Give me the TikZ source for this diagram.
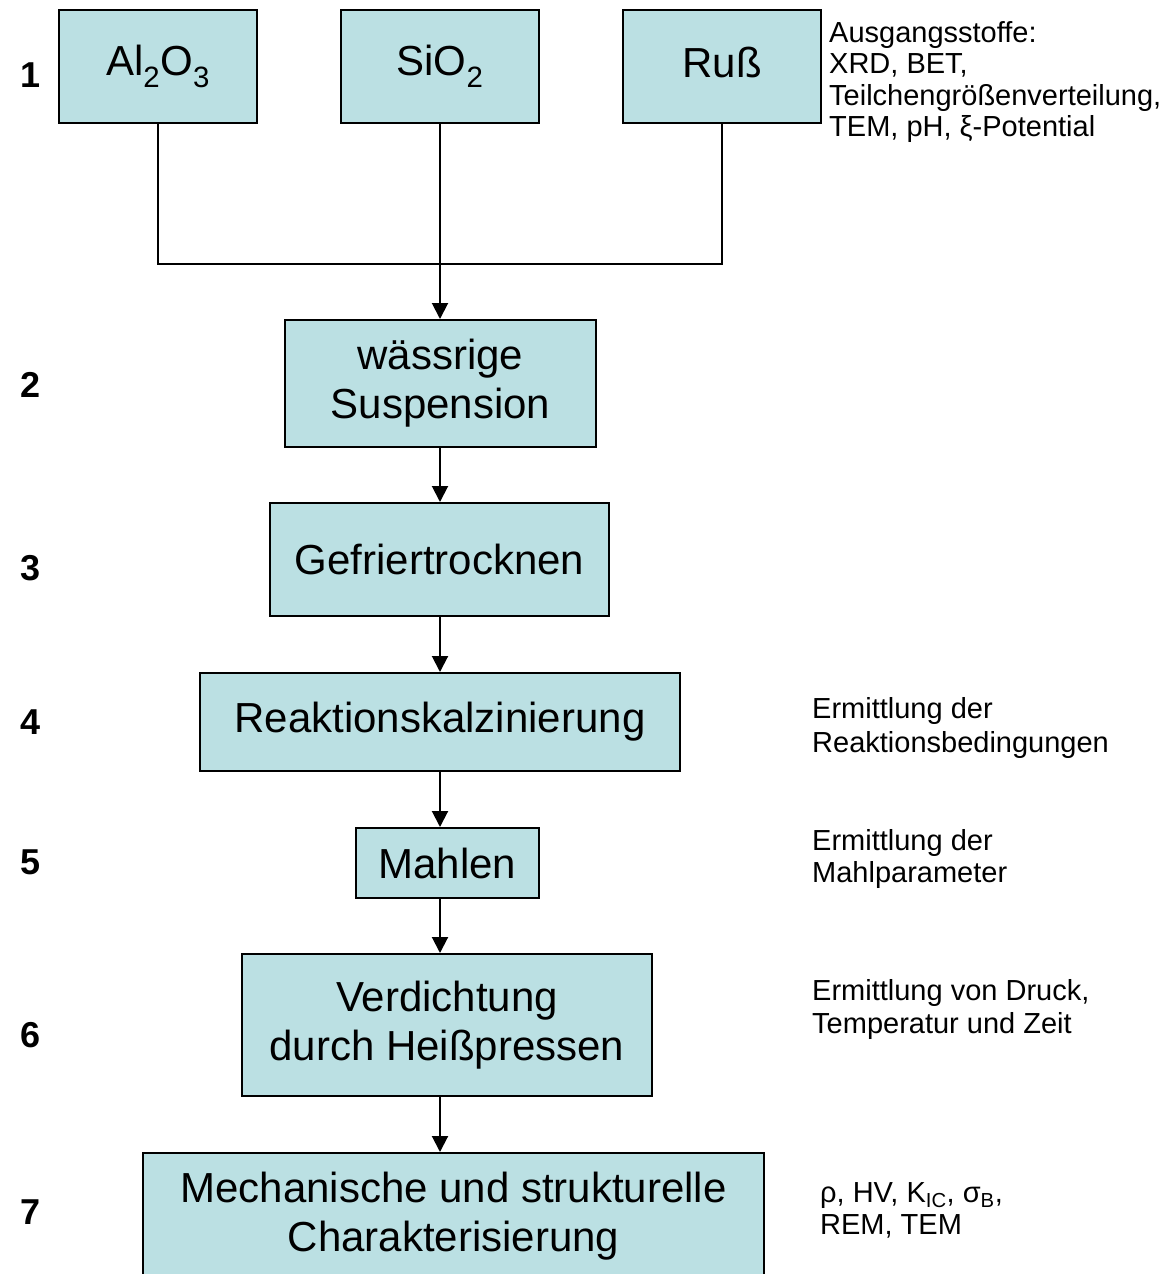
\documentclass[tikz,border=0pt]{standalone}
\usepackage{fontspec}
\setmainfont{Liberation Sans}
\usepackage{tikz}
\usetikzlibrary{arrows.meta,positioning}
\definecolor{stepfill}{RGB}{187,224,227}

\begin{document}
\begin{tikzpicture}[
  x=1pt, y=-1pt,
  block/.style={
    rectangle, draw, fill=stepfill, line width=2pt,
    inner sep=0pt, align=center,
    font=\fontsize{42}{49}\selectfont
  },
  note/.style={
    anchor=north west, inner sep=0pt, align=left,
    font=\fontsize{29}{33}\selectfont
  },
  num/.style={font=\fontsize{36}{40}\selectfont\bfseries, inner sep=0pt},
  arrow/.style={-{Triangle[length=16pt,width=16pt]}, line width=2pt},
  link/.style={line width=2pt}
]
\path[use as bounding box, clip] (0,0) rectangle (1173,1274);

% Row 1: starting powders
\node[block, minimum width=198, minimum height=113] (al) at (158,66.5) {\raisebox{9pt}{Al\textsubscript{2}O\textsubscript{3}}};
\node[block, minimum width=198, minimum height=113] (si) at (440,66.5) {\raisebox{9pt}{SiO\textsubscript{2}}};
\node[block, minimum width=198, minimum height=113] (russ) at (722,66.5) {\raisebox{9pt}{Ruß}};
\coordinate (join) at (440,264);

% Process chain
\node[block, minimum width=311, minimum height=127] (susp) at (440.5,383.5) {wässrige\\Suspension};
\node[block, minimum width=339, minimum height=113] (gefr) at (439.5,559.5) {Gefriertrocknen};
\node[block, minimum width=480, minimum height=98] (reak) at (440,722) {Reaktionskalzinierung};
\node[block, minimum width=183, minimum height=70] (mahl) at (447.5,863) {Mahlen};
\node[block, minimum width=410, minimum height=142] (verd) at (447,1025) {Verdichtung\\durch Heißpressen};
\node[block, minimum width=621, minimum height=126] (mech) at (453.5,1216) {Mechanische und strukturelle\\Charakterisierung};

% Step numbers
\foreach \n/\ypos in {1/75,2/385,3/568,4/722,5/862,6/1035,7/1212}
  \node[num] (num\n) at (31,\ypos) {\n};

% Notes
\node[note, font=\fontsize{29}{31.3}\selectfont] (noteraw) at (829,21.5) {Ausgangsstoffe:\\XRD, BET,\\Teilchengrößenverteilung,\\TEM, pH, ξ-Potential};
\node[note, font=\fontsize{29}{34}\selectfont] (notereak) at (812,697) {Ermittlung der\\Reaktionsbedingungen};
\node[note, font=\fontsize{29}{32}\selectfont] (notemahl) at (812,829) {Ermittlung der\\Mahlparameter};
\node[note] (noteverd) at (812,979) {Ermittlung von Druck,\\Temperatur und Zeit};
\node[note, font=\fontsize{29}{32}\selectfont] (notemech) at (820,1182) {ρ, HV, K\textsubscript{IC}, σ\textsubscript{B},\\REM, TEM};

% Connectors
\draw[link] (al.south) |- (join) -| (russ.south);
\draw[arrow] (si.south) -- (susp.north -| si.south);
\draw[arrow] (susp.south -| si.south) -- (gefr.north -| si.south);
\draw[arrow] (gefr.south -| si.south) -- (reak.north -| si.south);
\draw[arrow] (reak.south -| si.south) -- (mahl.north -| si.south);
\draw[arrow] (mahl.south -| si.south) -- (verd.north -| si.south);
\draw[arrow] (verd.south -| si.south) -- (mech.north -| si.south);

\end{tikzpicture}
\end{document}
